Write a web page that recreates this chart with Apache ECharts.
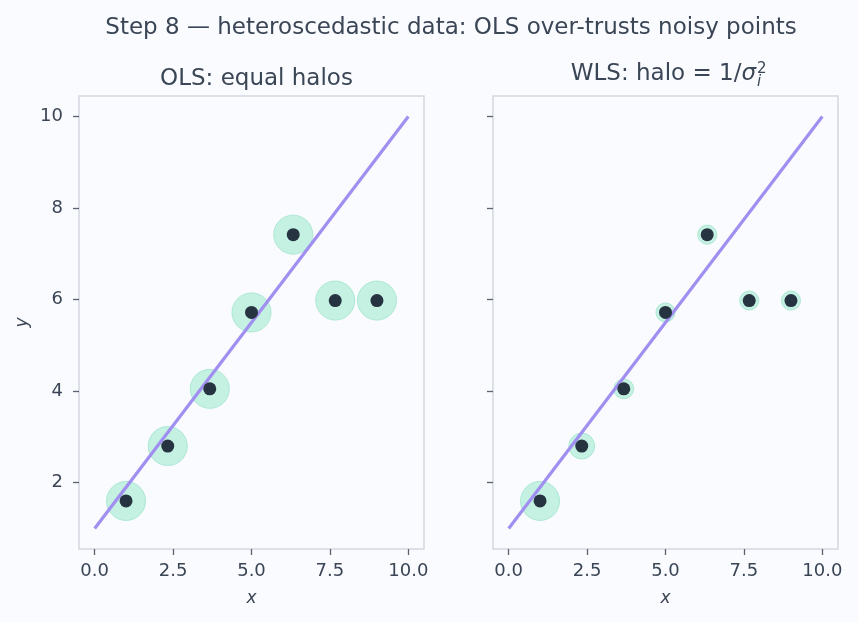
<!DOCTYPE html>
<html>
<head>
<meta charset="utf-8">
<script src="https://cdn.jsdelivr.net/npm/echarts@6/dist/echarts.min.js"></script>
<style>
  html, body { margin: 0; padding: 0; background: #fafbfe; }
  #chart { width: 858px; height: 622px; }
</style>
</head>
<body>
<div id="chart"></div>
<script>
  // observed points, same in both panels
  const xs = [1, 2.33, 3.67, 5, 6.33, 7.67, 9]
  const ys = [1.6, 2.8, 4.05, 5.72, 7.42, 5.98, 5.98]
  // halo weight (relative area) per point
  const olsWeight = [1, 1, 1, 1, 1, 1, 1]
  const wlsWeight = [1, 0.44, 0.26, 0.24, 0.24, 0.24, 0.24]
  // fitted lines (end points)
  const lineX = [0, 10]
  const olsLineY = [1, 10]
  const wlsLineY = [1, 10]
  // tick values
  const xTicks = [0, 2.5, 5, 7.5, 10]
  const yTicks = [2, 4, 6, 8, 10]

  const FONT = 'DejaVu Sans'
  const COLOR = {
    text: '#3a4555', frame: '#d3d8df', tick: '#5a6270',
    halo: '#c4f1e2', haloEdge: '#ace8d4', dot: '#263340', line: '#a08ff0'
  }
  const HALO_D = 39

  const chart = echarts.init(document.getElementById('chart'))

  function makeX(idx) {
    return {
      type: 'value', gridIndex: idx, min: -0.5, max: 10.5,
      name: 'x', nameLocation: 'middle', nameGap: 41,
      nameTextStyle: { fontFamily: FONT, fontSize: 17, fontStyle: 'italic', color: COLOR.text },
      axisLine: { show: false, onZero: false },
      splitLine: { show: false },
      axisTick: { show: true, length: 6, customValues: xTicks, lineStyle: { color: COLOR.tick, width: 1.3 } },
      axisLabel: {
        customValues: xTicks, margin: 13,
        formatter: v => v.toFixed(1),
        fontFamily: FONT, fontSize: 18, color: COLOR.text
      }
    }
  }

  function makeY(idx, showLabel) {
    return {
      type: 'value', gridIndex: idx, min: 0.55, max: 10.45,
      name: showLabel ? 'y' : '', nameLocation: 'middle', nameGap: 48,
      nameTextStyle: { fontFamily: FONT, fontSize: 17, fontStyle: 'italic', color: COLOR.text },
      axisLine: { show: false, onZero: false },
      splitLine: { show: false },
      axisTick: { show: true, length: 6, customValues: yTicks, lineStyle: { color: COLOR.tick, width: 1.3 } },
      axisLabel: {
        show: showLabel, customValues: yTicks, margin: 16,
        fontFamily: FONT, fontSize: 18, color: COLOR.text
      }
    }
  }

  function panelSeries(idx, weights, lineY) {
    let pts = xs.map((x, i) => [x, ys[i]])
    return [
      {
        type: 'scatter', xAxisIndex: idx, yAxisIndex: idx, z: 2,
        data: pts,
        symbolSize: (v, p) => HALO_D * Math.sqrt(weights[p.dataIndex]),
        itemStyle: { color: COLOR.halo, borderColor: COLOR.haloEdge, borderWidth: 1, opacity: 1 },
        silent: true
      },
      {
        type: 'line', xAxisIndex: idx, yAxisIndex: idx, z: 3,
        data: lineX.map((x, i) => [x, lineY[i]]),
        showSymbol: false,
        lineStyle: { color: COLOR.line, width: 3.2 },
        silent: true
      },
      {
        type: 'scatter', xAxisIndex: idx, yAxisIndex: idx, z: 4,
        data: pts, symbolSize: 13,
        itemStyle: { color: COLOR.dot, opacity: 1 },
        silent: true
      }
    ]
  }

  const option = {
    backgroundColor: '#fafbfe',
    animation: false,
    title: [
      {
        text: 'Step 8 — heteroscedastic data: OLS over-trusts noisy points',
        left: 446, top: 12, textAlign: 'center',
        textStyle: { fontFamily: FONT, fontSize: 23, fontWeight: 'normal', color: COLOR.text }
      },
      {
        text: 'OLS: equal halos',
        left: 251.5, top: 63, textAlign: 'center',
        textStyle: { fontFamily: FONT, fontSize: 23, fontWeight: 'normal', color: COLOR.text }
      }
    ],
    // WLS title: main text plus stacked super/subscript
    graphic: [
      {
        type: 'text', right: 858 - 756, top: 63,
        style: {
          text: '{n|WLS: halo = 1/}{s|σ}',
          rich: {
            n: { fontFamily: FONT, fontSize: 23, fill: COLOR.text },
            s: { fontFamily: FONT, fontSize: 23, fontStyle: 'italic', fill: COLOR.text }
          }
        }
      },
      {
        type: 'text', left: 757, top: 62,
        style: { text: '2', font: '15px "DejaVu Sans"', fill: COLOR.text }
      },
      {
        type: 'text', left: 757, top: 75,
        style: { text: 'i', font: 'italic 15px "DejaVu Sans"', fill: COLOR.text }
      }
    ],
    grid: [
      { left: 79, top: 96, width: 345, height: 453, show: true, borderColor: COLOR.frame, borderWidth: 1.5, backgroundColor: 'transparent' },
      { left: 493, top: 96, width: 345, height: 453, show: true, borderColor: COLOR.frame, borderWidth: 1.5, backgroundColor: 'transparent' }
    ],
    xAxis: [makeX(0), makeX(1)],
    yAxis: [makeY(0, true), makeY(1, false)],
    series: [].concat(panelSeries(0, olsWeight, olsLineY), panelSeries(1, wlsWeight, wlsLineY))
  }

  chart.setOption(option)
</script>
</body>
</html>
